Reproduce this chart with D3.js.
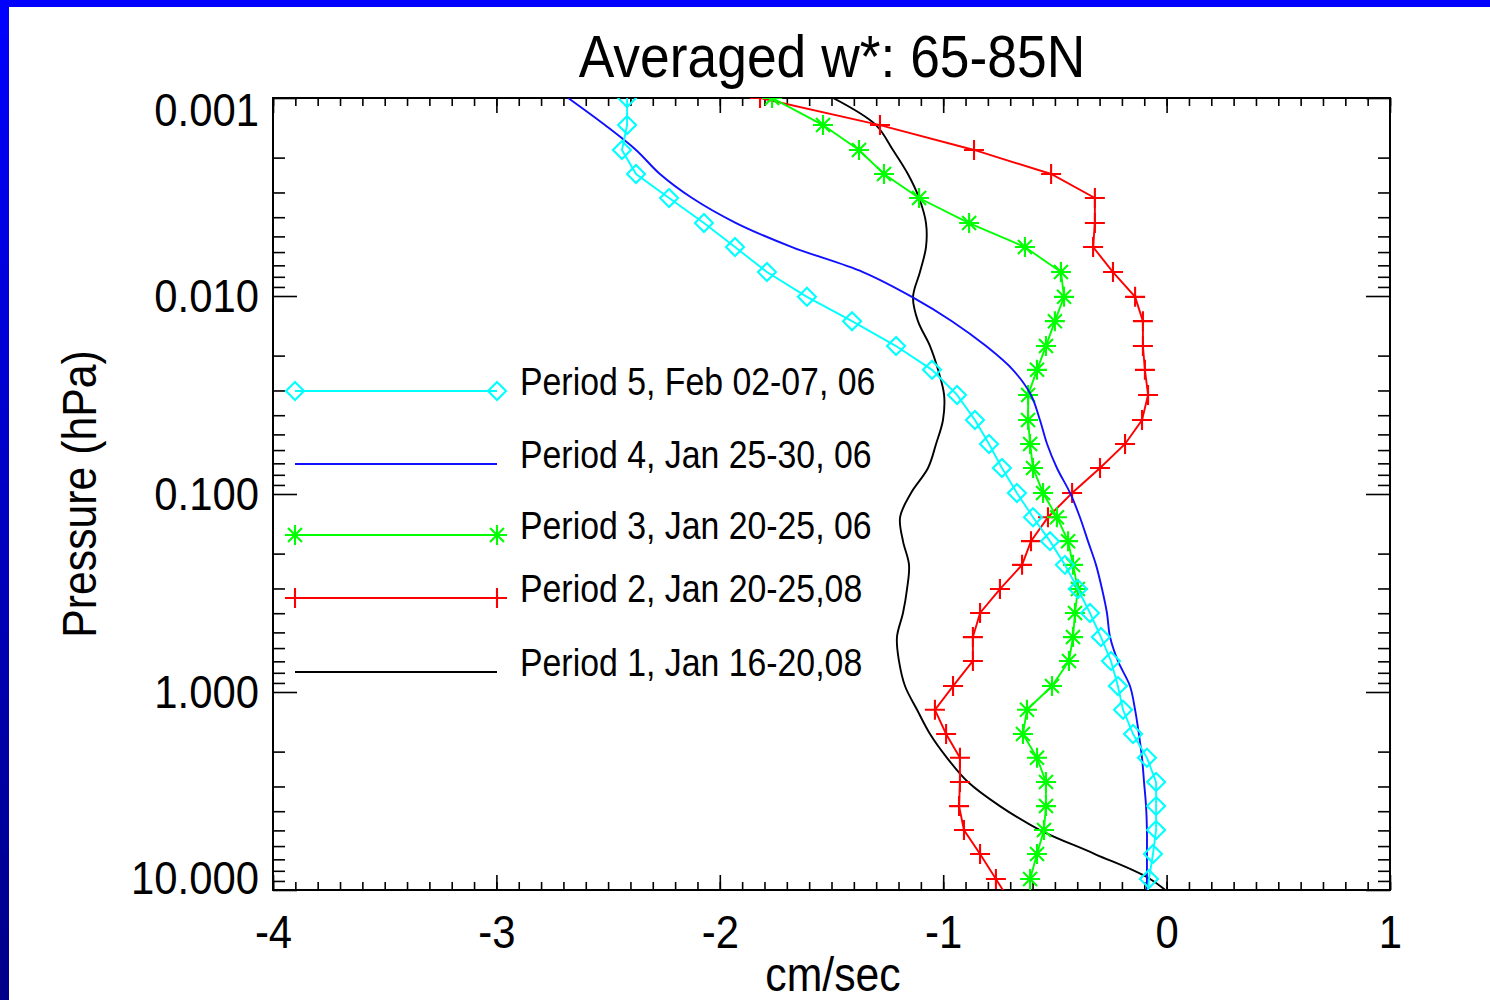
<!DOCTYPE html>
<html>
<head>
<meta charset="utf-8">
<script src="https://cdn.jsdelivr.net/npm/d3@7"></script>
<style>
body { margin: 0; background: #fff; }
text { font-family: "Liberation Sans", Arial, Helvetica, sans-serif; fill: #000; }
.tick line { stroke: #000; stroke-width: 1.6; }
</style>
</head>
<body>
<script>
// pressure levels (hPa), shared by all periods
var pressure = [0.00100, 0.00137, 0.00183, 0.00242, 0.00320, 0.00428, 0.00566, 0.00757,
  0.0101, 0.0134, 0.0179, 0.0236, 0.0316, 0.0423, 0.0559, 0.0739, 0.0988,
  0.131, 0.173, 0.228, 0.302, 0.399, 0.528, 0.697, 0.933,
  1.23, 1.63, 2.15, 2.85, 3.77, 4.98, 6.58, 8.80, 11.6];

// w* (cm/sec) for each period
var period5 = [-2.415, -2.415, -2.438, -2.375, -2.227, -2.071, -1.932, -1.789, -1.610, -1.408, -1.211, -1.050,
  -0.938, -0.858, -0.795, -0.737, -0.670, -0.598, -0.522, -0.455, -0.397, -0.343, -0.294, -0.249,
  -0.218, -0.195, -0.150, -0.088, -0.047, -0.047, -0.047, -0.061, -0.079, -0.088];
var period4 = [-2.679, -2.514, -2.375, -2.268, -2.124, -1.927, -1.677, -1.359, -1.140, -0.961, -0.808, -0.688,
  -0.607, -0.567, -0.535, -0.491, -0.432, -0.388, -0.352, -0.316, -0.289, -0.267, -0.253, -0.218,
  -0.164, -0.141, -0.124, -0.110, -0.101, -0.092, -0.088, -0.088, -0.088, -0.088];
var period3 = [-1.766, -1.538, -1.377, -1.265, -1.108, -0.884, -0.634, -0.473, -0.459, -0.500, -0.540, -0.580,
  -0.620, -0.620, -0.611, -0.598, -0.553, -0.491, -0.441, -0.419, -0.397, -0.410, -0.419, -0.437,
  -0.513, -0.625, -0.643, -0.580, -0.540, -0.540, -0.549, -0.580, -0.611, -0.611];
var period2 = [-1.820, -1.283, -0.862, -0.517, -0.321, -0.321, -0.329, -0.240, -0.141, -0.106, -0.106, -0.097,
  -0.083, -0.110, -0.186, -0.298, -0.423, -0.531, -0.607, -0.647, -0.746, -0.835, -0.867, -0.867,
  -0.956, -1.037, -0.987, -0.925, -0.925, -0.929, -0.907, -0.835, -0.764, -0.697];
var period1 = [-1.493, -1.301, -1.225, -1.158, -1.108, -1.077, -1.077, -1.104, -1.135, -1.113, -1.059, -1.023,
  -0.996, -1.001, -1.032, -1.068, -1.144, -1.193, -1.180, -1.153, -1.162, -1.180, -1.207, -1.198,
  -1.171, -1.117, -1.059, -0.983, -0.889, -0.746, -0.567, -0.321, -0.074, 0.060];

var legendLabels = ["Period 5, Feb 02-07, 06", "Period 4, Jan 25-30, 06", "Period 3, Jan 20-25, 06",
  "Period 2, Jan 20-25,08", "Period 1, Jan 16-20,08"];
var xTicks = [-4, -3, -2, -1, 0, 1];
var yTicks = [0.001, 0.01, 0.1, 1, 10];

var width = 1490,
    height = 1000;
var box = {x0: 273, x1: 1390, y0: 98, y1: 890};
var squeezeBy = 0.89;   // the original font is narrower than Liberation Sans

var series = [
  {values: period1, color: "#000000", marker: null, smooth: true},
  {values: period2, color: "#ff0000", marker: "plus"},
  {values: period3, color: "#00ff00", marker: "star"},
  {values: period4, color: "#1010ff", marker: null, smooth: true},
  {values: period5, color: "#00ffff", marker: "diamond"}
];
var legendOrder = [4, 3, 2, 1, 0];

var svg = d3.select("body").append("svg")
    .attr("width", width)
    .attr("height", height);

// slide background: blue strip at top and graded strip on the left
var defs = svg.append("defs");
var grad = defs.append("linearGradient").attr("id", "edge")
    .attr("x1", 0).attr("y1", 0).attr("x2", 0).attr("y2", 1);
grad.append("stop").attr("offset", "0%").attr("stop-color", "#0000ff");
grad.append("stop").attr("offset", "100%").attr("stop-color", "#000088");
defs.append("clipPath").attr("id", "plotclip").append("rect")
    .attr("x", box.x0).attr("y", box.y0)
    .attr("width", box.x1 - box.x0).attr("height", box.y1 - box.y0);

svg.append("rect").attr("width", width).attr("height", height).attr("fill", "#fff");
svg.append("rect").attr("width", 9).attr("height", height).attr("fill", "url(#edge)");
svg.append("rect").attr("width", width).attr("height", 7).attr("fill", "#0000ff");

var x = d3.scaleLinear().domain([-4, 1]).range([box.x0, box.x1]);
var y = d3.scaleLog().domain([0.001, 10]).range([box.y0, box.y1]);

var xMinor = d3.range(-40, 11).map(function(d) { return d / 10; });
var yMinor = [];
[0.001, 0.01, 0.1, 1].forEach(function(dec) {
  for (var k = 2; k <= 9; k++) yMinor.push(dec * k);
});

function addAxis(axis, tx, ty) {
  var g = svg.append("g").attr("transform", "translate(" + tx + "," + ty + ")").call(axis);
  g.select(".domain").remove();
  return g;
}

function squeeze(sel) {
  sel.each(function() {
    var w = this.getComputedTextLength();
    d3.select(this).attr("textLength", w * squeezeBy).attr("lengthAdjust", "spacingAndGlyphs");
  });
}

// minor ticks
addAxis(d3.axisBottom(x).tickValues(xMinor).tickSize(-8).tickFormat(""), 0, box.y1);
addAxis(d3.axisTop(x).tickValues(xMinor).tickSize(-8).tickFormat(""), 0, box.y0);
addAxis(d3.axisLeft(y).tickValues(yMinor).tickSize(-12).tickFormat(""), box.x0, 0);
addAxis(d3.axisRight(y).tickValues(yMinor).tickSize(-12).tickFormat(""), box.x1, 0);

// major ticks
var xAxis = addAxis(d3.axisBottom(x).tickValues(xTicks).tickSize(-15).tickPadding(25)
    .tickFormat(function(d) { return String(d); }), 0, box.y1);
addAxis(d3.axisTop(x).tickValues(xTicks).tickSize(-15).tickFormat(""), 0, box.y0);
var yAxis = addAxis(d3.axisLeft(y).tickValues(yTicks).tickSize(-24).tickPadding(14)
    .tickFormat(d3.format(".3f")), box.x0, 0);
addAxis(d3.axisRight(y).tickValues(yTicks).tickSize(-24).tickFormat(""), box.x1, 0);

xAxis.selectAll("text").style("font-size", "47px").call(squeeze);
yAxis.selectAll("text").style("font-size", "47px").call(squeeze)
    .attr("transform", function(d) { return d === 0.001 ? "translate(0,12)" : d === 10 ? "translate(0,-12)" : null; });

svg.append("rect")
    .attr("x", box.x0).attr("y", box.y0)
    .attr("width", box.x1 - box.x0).attr("height", box.y1 - box.y0)
    .attr("fill", "none").attr("stroke", "#000").attr("stroke-width", 2);

// markers
function markerPath(type) {
  if (type === "diamond") return "M0,-9L9,0L0,9L-9,0Z";
  if (type === "plus") return "M-10,0H10M0,-10V10";
  if (type === "star") return "M-10,0H10M0,-10V10M-7,-7L7,7M-7,7L7,-7";
  return "";
}

var plotArea = svg.append("g").attr("clip-path", "url(#plotclip)");

var line = d3.line()
    .x(function(d) { return x(d[1]); })
    .y(function(d) { return y(d[0]); });

series.forEach(function(s) {
  var pts = pressure.map(function(p, i) { return [p, s.values[i]]; });
  plotArea.append("path")
      .datum(pts)
      .attr("fill", "none")
      .attr("stroke", s.color)
      .attr("stroke-width", 1.9)
      .attr("d", line.curve(s.smooth ? d3.curveCatmullRom : d3.curveLinear));
  if (s.marker) {
    plotArea.selectAll(null)
        .data(pts)
        .enter().append("path")
          .attr("transform", function(d) { return "translate(" + x(d[1]) + "," + y(d[0]) + ")"; })
          .attr("d", markerPath(s.marker))
          .attr("fill", "none")
          .attr("stroke", s.color)
          .attr("stroke-width", 2.1);
  }
});

// legend
var legendLineY = [391, 464, 535, 598, 672];
var legend = svg.append("g");
legendOrder.forEach(function(si, i) {
  var s = series[si];
  legend.append("line")
      .attr("x1", 295).attr("x2", 497)
      .attr("y1", legendLineY[i]).attr("y2", legendLineY[i])
      .attr("stroke", s.color).attr("stroke-width", 2);
  if (s.marker) {
    [295, 497].forEach(function(mx) {
      legend.append("path")
          .attr("transform", "translate(" + mx + "," + legendLineY[i] + ")")
          .attr("d", markerPath(s.marker))
          .attr("fill", "none").attr("stroke", s.color).attr("stroke-width", 2.1);
    });
  }
  legend.append("text")
      .attr("x", 520).attr("y", legendLineY[i] + 4)
      .style("font-size", "38px")
      .text(legendLabels[i])
      .call(squeeze);
});

// titles
svg.append("text")
    .attr("x", 832).attr("y", 77)
    .attr("text-anchor", "middle")
    .style("font-size", "60px")
    .text("Averaged w*: 65-85N")
    .call(squeeze);

svg.append("text")
    .attr("x", 833).attr("y", 991)
    .attr("text-anchor", "middle")
    .style("font-size", "48px")
    .text("cm/sec")
    .call(squeeze);

svg.append("text")
    .attr("transform", "translate(96,494) rotate(-90)")
    .attr("text-anchor", "middle")
    .style("font-size", "48px")
    .text("Pressure (hPa)")
    .call(squeeze);
</script>
</body>
</html>
